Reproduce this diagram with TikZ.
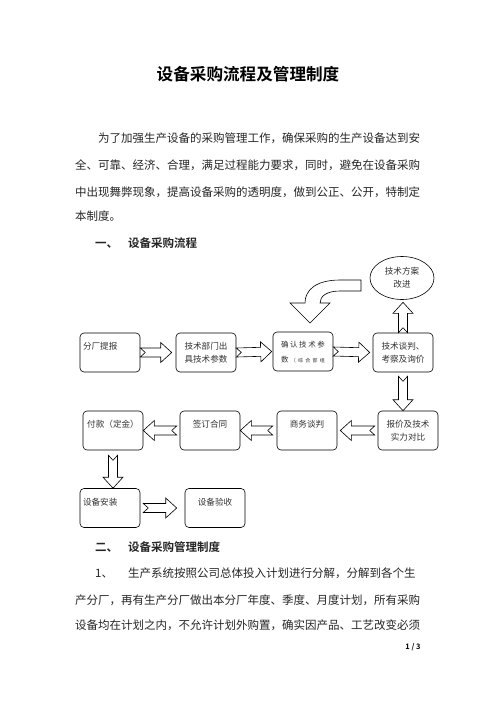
\documentclass[tikz,border=0pt]{standalone}
\usepackage{fontspec}
\setmainfont{Noto Sans CJK SC}[BoldFont={Noto Sans CJK SC Bold}]
\usetikzlibrary{calc,shapes.geometric}

\newcommand{\boxfont}{\fontsize{8.6}{13}\selectfont}
\newcommand{\cell}[2][\centering]{\parbox[t][25pt][t]{54pt}{\vspace*{2.5pt}#1#2}}
\newcommand{\blockarrow}[2]{%
  \coordinate (ba-s) at #1;
  \coordinate (ba-e) at #2;
  \coordinate (ba-n) at ($(ba-e)!11pt!(ba-s)$);
  \draw[fatarrow] ($(ba-s)!4.5pt!90:(ba-e)$) -- ($(ba-n)!4.5pt!90:(ba-e)$)
    -- ($(ba-n)!10pt!90:(ba-e)$) -- (ba-e) -- ($(ba-n)!10pt!-90:(ba-e)$)
    -- ($(ba-n)!4.5pt!-90:(ba-e)$) -- ($(ba-s)!4.5pt!-90:(ba-e)$)
    -- ($(ba-s)!5pt!(ba-e)$) -- cycle;}

\begin{document}
\begin{tikzpicture}[x=1pt,y=-1pt,
    txt/.style={inner sep=0pt,font=\fontsize{11.5}{11.5}\selectfont,text=black!85},
    flowbox/.style={draw,line width=0.6pt,rounded corners=4pt,inner xsep=3pt,inner ysep=7pt,font=\boxfont,text=black!80},
    fatarrow/.style={draw,line width=0.6pt,fill=white,line join=miter}]
\useasboundingbox[fill=white] (0,0) rectangle (496,702);

\node[inner sep=0pt,font=\fontsize{16.6}{20}\selectfont\bfseries] (title) at (248,74) {设备采购流程及管理制度};

\node[txt,anchor=west] (p1) at (98,138) {为了加强生产设备的采购管理工作，确保采购的生产设备达到安};
\node[txt,anchor=west] (p2) at (75,165) {全、可靠、经济、合理，满足过程能力要求，同时，避免在设备采购};
\node[txt,anchor=west] (p3) at (75,192) {中出现舞弊现象，提高设备采购的透明度，做到公正、公开，特制定};
\node[txt,anchor=west] (p4) at (75,216) {本制度。};
\node[txt,anchor=west,font=\fontsize{11.5}{11.5}\selectfont\bfseries] (sec1) at (95,243) {\makebox[33pt][l]{一、}设备采购流程};

\node[flowbox] (b1) at (110,352.5) {\cell[\raggedright]{分厂提报}};
\node[flowbox] (b2) at (206,352.5) {\cell{技术部门出\\具技术参数}};
\node[flowbox] (b3) at (303,351.5) {\cell{\fontsize{7.5}{15}\selectfont
  \makebox[44pt][s]{确\hfill 认\hfill 技\hfill 术\hfill 参}\\
  \makebox[44pt][s]{数\hfill{\fontsize{5}{5}\selectfont （\hfill 综\hfill 合\hfill 部\hfill 组}}}};
\node[flowbox] (b4) at (403,352.5) {\cell{技术谈判、\\考察及询价}};
\node[draw,line width=0.6pt,ellipse,minimum width=64pt,minimum height=43pt,inner sep=0pt,
  align=center,font=\boxfont,text=black!80] (e1) at (402,278) {技术方案\\改进};

\node[flowbox] (b5) at (408,430.5) {\cell{报价及技术\\实力对比}};
\node[flowbox] (b6) at (307,430.5) {\cell{商务谈判}};
\node[flowbox] (b7) at (210,430.5) {\cell{签订合同}};
\node[flowbox] (b8) at (113,430.5) {\cell{付款（定金）}};
\node[flowbox] (b9) at (110,508) {\cell[\raggedright]{设备安装}};
\node[flowbox] (b10) at (215,508) {\cell{设备验收}};

\blockarrow{(b1.east)}{([xshift=-4pt]b2.west)}
\blockarrow{(b2.east)}{([xshift=-1pt]b3.west)}
\blockarrow{(b3.east)}{([xshift=-3pt]b4.west)}
\blockarrow{(b4.north)}{([yshift=-2.5pt]b4.north |- e1.south)}
\blockarrow{([yshift=-4pt]b4.south)}{(b4.south |- b5.north)}
\blockarrow{([xshift=-3pt]b5.west)}{([xshift=3pt]b6.east)}
\blockarrow{([xshift=-4pt]b6.west)}{(b7.east)}
\blockarrow{([xshift=-3pt]b7.west)}{(b8.east)}
\blockarrow{([yshift=-5pt]b8.south)}{(b8.south |- b9.north)}
\blockarrow{([xshift=3pt]b9.east)}{([xshift=-8pt]b10.west)}

\coordinate (turn) at (310,323);
\draw[fatarrow] (361,280) -- (340,280) .. controls (316,280) and (305,290) .. (305,303)
  -- (290,303) -- (turn) -- (330,303) -- (320,303)
  .. controls (320,296) and (327,291) .. (340,291) -- (361,291) -- cycle;

\node[txt,anchor=west,font=\fontsize{11.5}{11.5}\selectfont\bfseries] (sec2) at (95,547) {\makebox[33pt][l]{二、}设备采购管理制度};
\node[txt,anchor=west] (q1) at (95,573) {\makebox[33pt][l]{1、}生产系统按照公司总体投入计划进行分解，分解到各个生};
\node[txt,anchor=west] (q2) at (75,600) {产分厂，再有生产分厂做出本分厂年度、季度、月度计划，所有采购};
\node[txt,anchor=west] (q3) at (75,625) {设备均在计划之内，不允许计划外购置，确实因产品、工艺改变必须};
\node[inner sep=0pt,font=\fontsize{7.5}{7.5}\selectfont\bfseries] (page) at (413,647) {1 / 3};
\end{tikzpicture}
\end{document}
